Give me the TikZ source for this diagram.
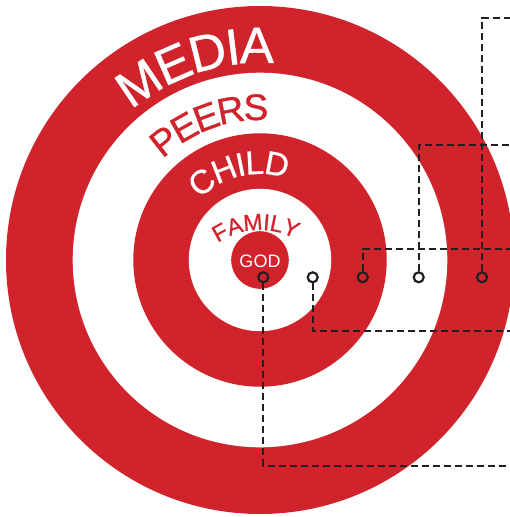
\documentclass[tikz,border=0pt]{standalone}
\usepackage{fontspec}
\setmainfont{Liberation Sans}
\newfontfamily\ringfont[FakeBold=0.8]{Liberation Sans}
\usetikzlibrary{decorations.text}
\definecolor{target}{RGB}{208,35,44}
\definecolor{wire}{RGB}{35,31,32}

\begin{document}
\begin{tikzpicture}[
  x=1pt, y=1pt,
  pin/.style={circle, draw=wire, line width=2.2pt,
              minimum size=10pt, inner sep=0pt},
  lead/.style={draw=wire, line width=2.2pt, dash pattern=on 7pt off 4pt},
  % colour, size, tracking, text
  arctext/.style n args={4}{decorate,
              decoration={text along path, text align=center, text color=#1,
                          text={|\ringfont\fontsize{#2}{#2}\selectfont\kern-#3pt|#4}}}]
\useasboundingbox (-260,-257) rectangle (250,260);
% target rings, outside in
\fill[target] (0,0) circle (254);
\fill[white]  (0,0) circle (187.3);
\fill[target] (0,0) circle (126.7);
\fill[white]  (0,0) circle (71.2);
\fill[target] (0,0) circle (28.8);
% ring labels, baseline along an arc, tight tracking
\path[arctext={white}{51}{2}{MEDIA}]   (168:197) arc[start angle=168, end angle=48, radius=197];
\path[arctext={target}{37}{2.4}{PEERS}] (169.75:140) arc[start angle=169.75, end angle=49.75, radius=140];
\path[arctext={white}{33}{1.2}{CHILD}] (163:86) arc[start angle=163, end angle=43, radius=86];
% family sits on a flatter arc just over the bull
\path[shift={(0,-45)}, arctext={target}{23}{0.3}{FAMILY}] (153:75) arc[start angle=153, end angle=33, radius=75];
\node[text=white, font=\fontsize{18}{18}\selectfont, anchor=base, inner sep=0pt] (god) at (0,-7.3) {GOD};
% pins on the ring line
\node[pin] (p1) at (3.3,-17.3)   {};
\node[pin] (p2) at (52.7,-17.3)  {};
\node[pin] (p3) at (102.7,-17.3) {};
\node[pin] (p4) at (158.7,-17.3) {};
\node[pin] (p5) at (222,-17.3)   {};
% free ends, past the right edge
\coordinate (e1) at (252,-206);
\coordinate (e2) at (252,-71);
\coordinate (e3) at (252,11);
\coordinate (e4) at (252,115);
\coordinate (e5) at (252,242);
% dashed leads
\draw[lead] (p1.south) |- (e1);
\draw[lead] (p2.south) |- (e2);
\draw[lead] (p3.north) |- (e3);
\draw[lead] (p4.north) |- (e4);
\draw[lead] (p5.north) |- (e5);
\end{tikzpicture}
\end{document}
